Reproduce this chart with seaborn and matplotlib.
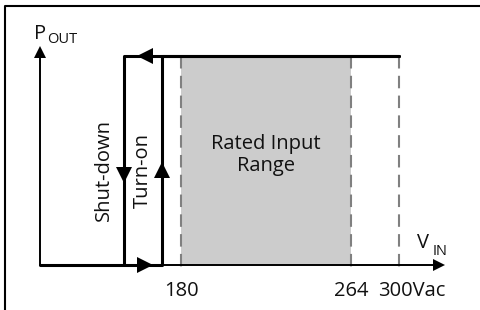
import matplotlib
matplotlib.use('Agg')
import matplotlib.pyplot as plt
import seaborn as sns
import pandas as pd

# ==========================================
# Data (schematic diagram, not drawn to scale)
# ==========================================
vin_labels = ['180', '264', '300Vac']      # labels on the V_IN axis
vin_x = [181, 351, 399]                     # schematic position of each label
shutdown_x = 124                            # shut-down threshold
turnon_x = 162                              # turn-on threshold
p_off = 265                                 # output off level
p_on = 56                                   # output on level
axis_x0 = 40

# turn-on branch: rising input
turn_on = pd.DataFrame({'vin': [axis_x0, turnon_x, turnon_x, vin_x[2]],
                        'pout': [p_off, p_off, p_on, p_on]})
# shut-down branch: falling input
shut_down = pd.DataFrame({'vin': [vin_x[2], shutdown_x, shutdown_x],
                          'pout': [p_on, p_on, p_off]})

sns.set_theme(style='white')
plt.rcParams['font.family'] = ['Open Sans', 'DejaVu Sans']

fig = plt.figure(figsize=(4.81, 3.10), dpi=100)
ax = fig.add_axes([0, 0, 1, 1])

# outer frame (left + top)
ax.plot([5, 5, 481], [310, 6, 6], color='black', lw=1.5, solid_capstyle='butt')

# rated input range shading
ax.fill_between([vin_x[0], vin_x[1]], p_on, p_off, color='#cccccc', lw=0, zorder=1)

# dashed guide lines
for x in vin_x:
    ax.plot([x, x], [p_on, p_off + 7], color='#808080', lw=1.5,
            dashes=(6, 3.5), zorder=2)

# axes with arrows
ax.plot([axis_x0, axis_x0], [p_off, 55], color='black', lw=1.4, zorder=3)
ax.plot([axis_x0, 436], [p_off, p_off], color='black', lw=1.4, zorder=3)
ax.plot([axis_x0], [52], marker='^', color='black', ms=8.5, mew=0, zorder=4)
ax.plot([439], [p_off], marker='>', color='black', ms=8.5, mew=0, zorder=4)

# hysteresis loop
sns.lineplot(data=turn_on, x='vin', y='pout', sort=False, estimator=None,
             color='black', lw=2.2, ax=ax, zorder=5)
sns.lineplot(data=shut_down, x='vin', y='pout', sort=False, estimator=None,
             color='black', lw=2.2, ax=ax, zorder=5)
ax.set_xlim(0, 481)
ax.set_ylim(310, 0)
ax.axis('off')

# direction arrows on the loop
ax.plot([145], [p_on], marker='<', color='black', ms=11, mew=0, zorder=6)
ax.plot([145], [p_off], marker='>', color='black', ms=11, mew=0, zorder=6)
ax.plot([shutdown_x], [175], marker='v', color='black', ms=11, mew=0, zorder=6)
ax.plot([turnon_x], [170], marker='^', color='black', ms=11, mew=0, zorder=6)

# texts
fs = 14.5
ax.text(34, 39, 'P', fontsize=fs, ha='left', va='baseline', color='#111111')
ax.text(47, 43, 'OUT', fontsize=10.5, ha='left', va='baseline', color='#111111')
ax.text(417, 248, 'V', fontsize=fs, ha='left', va='baseline', color='#111111')
ax.text(433, 255, 'IN', fontsize=10.5, ha='left', va='baseline', color='#111111')

ax.text(266, 155, 'Rated Input\nRange', fontsize=fs, ha='center', va='center',
        linespacing=1.1, zorder=7, color='#111111')
ax.text(104, 170, 'Shut-down', fontsize=fs, rotation=90, ha='center', va='center',
        color='#111111')
ax.text(143, 170, 'Turn-on', fontsize=fs, rotation=90, ha='center', va='center',
        color='#111111')

for x, lab in zip(vin_x[:2], vin_labels[:2]):
    ax.text(x, 291, lab, fontsize=fs, ha='center', va='center', color='#111111')
ax.text(378, 291, vin_labels[2], fontsize=fs, ha='left', va='center', color='#111111')

fig.savefig('out.png', dpi=100)
